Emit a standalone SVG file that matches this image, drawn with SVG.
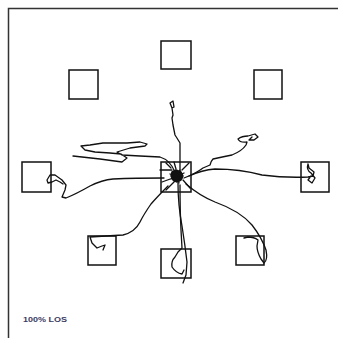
<svg xmlns="http://www.w3.org/2000/svg" width="338" height="338" viewBox="0 0 338 338">
<style>
.box{fill:none;stroke:#111;stroke-width:1.5}
.tr{fill:none;stroke:#111;stroke-width:1.3;stroke-linejoin:round;stroke-linecap:round}
.lbl{font-family:"Liberation Sans",Arial,sans-serif;font-size:7px;font-weight:bold;fill:#3a3a60}
</style>
<rect width="338" height="338" fill="#fff"/>
<path d="M8.5,338 V8.5 H338" fill="none" stroke="#333" stroke-width="1.5"/>
<g id="box-top"><rect class="box" x="161" y="41" width="30" height="28"/></g>
<g id="box-topleft"><rect class="box" x="69" y="70" width="29" height="29"/></g>
<g id="box-topright"><rect class="box" x="254" y="70" width="28" height="29"/></g>
<g id="box-left"><rect class="box" x="22" y="162" width="29" height="30"/></g>
<g id="box-center"><rect class="box" x="161" y="162" width="30" height="30"/></g>
<g id="box-right"><rect class="box" x="301" y="162" width="28" height="30"/></g>
<g id="box-bottomleft"><rect class="box" x="88" y="236" width="28" height="29"/></g>
<g id="box-bottom"><rect class="box" x="161" y="249" width="30" height="29"/></g>
<g id="box-bottomright"><rect class="box" x="236" y="236" width="28" height="29"/></g>
<g id="connectors">
<path class="tr" d="M180,178 L180,143 Q177,138 175,135 L173,125 L172,118 L173,115 L172,108 L170,103 L173,101 L174,107 L172,108"/>
<path class="tr" d="M184,178 Q195,174 203,168 L210,165 Q211,161 213,159 Q222,157 232,155 Q242,151 246,145 L247,142 Q240,143 238,139 Q242,136 248,136 L255,134 L258,137 L254,140 L249,140 L252,137"/>
<path class="tr" d="M189,176 Q202,170 215,169 Q240,169 262,175 Q285,178 308,177 L313,176 L314,172 L309,168 L308,164 M308,164 Q306,170 311,173 L315,178 L312,183 L308,180 L311,176"/>
<path class="tr" d="M186,184 Q200,196 215,202 Q240,211 252,225 Q262,238 266,250 Q268,260 264,263 L261,259 Q257,252 257,246 L258,240 Q254,237 248,237 L244,238"/>
<path class="tr" d="M178,183 Q178,205 182,226 Q185,245 187,262 L186,275 L183,283"/>
<path class="tr" d="M180,185 Q180,210 181,230 L182,248 L178,252 L175,257 Q171,261 172,267 Q176,273 182,274 L184,270"/>
<path class="tr" d="M168,186 Q158,196 151,204 Q144,214 140,222 Q135,232 123,235 Q105,236 90,237 L92,243 L97,248 L102,246 L105,245 L103,250"/>
<path class="tr" d="M164,178 Q135,178 113,179 Q102,180 90,186 Q76,194 66,198 L62,197 L65,190 L66,185 L62,180 L55,175 L50,175 L47,180 L48,183 L52,182 L56,180 L60,182 L63,184"/>
<path class="tr" d="M175,172 Q170,160 160,157 L140,156 L122,155 L117,152 L130,148 L145,146 L147,144 L140,142 L127,143 L103,143 L90,145 L81,146 L85,150 L95,152 L110,153 L121,154 L127,158 L122,162 L100,159 L73,156"/>
<path class="tr" d="M171,168 L166,163 M172,170 L160,170 M173,178 L162,182 M175,181 L166,190 M182,170 L189,163 M183,180 L190,188 M176,169 L174,162 M170,174 L182,178 M174,182 L180,170 M171,179 L184,173 M176,171 L179,183"/>
<path d="M172,172 L176,170 L181,172 L183,176 L181,180 L177,182 L173,180 L171,176 Z" fill="#111" stroke="#111" stroke-width="1.5" stroke-linejoin="round"/>
</g>
<text class="lbl" x="23" y="322" textLength="44" lengthAdjust="spacingAndGlyphs">100% LOS</text>
</svg>
